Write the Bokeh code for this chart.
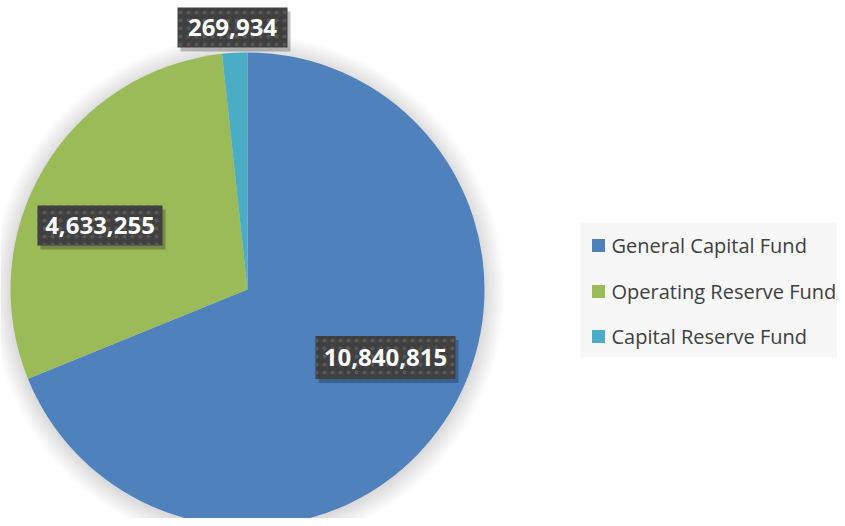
import numpy as np
from bokeh.plotting import figure
from bokeh.models import Range1d, ColumnDataSource
from bokeh.core.properties import value
from bokeh.embed import file_html
from bokeh.resources import INLINE

categories = ["General Capital Fund", "Operating Reserve Fund", "Capital Reserve Fund"]
values = [10840815, 4633255, 269934]
colors = ["#4F81BD", "#9BBB59", "#4BACC6"]
value_labels = ["10,840,815", "4,633,255", "269,934"]

H = 526  # data y = H - screen_y
cx, cy, R = 247, H - 289, 237

vals = np.array(values, dtype=float)
fr = vals / vals.sum()
ends = np.cumsum(fr)
starts = ends - fr
start_angle = np.pi / 2 - starts * 2 * np.pi
end_angle = np.pi / 2 - ends * 2 * np.pi

p = figure(width=837, height=518, x_range=Range1d(0, 837), y_range=Range1d(8, 526),
           output_backend="svg", toolbar_location=None, min_border=0)
p.axis.visible = False
p.grid.visible = False
p.outline_line_color = None
p.background_fill_color = "white"
p.border_fill_color = "white"

# soft shadow
for i in range(12):
    p.circle(x=cx, y=cy - 2, radius=R + 1 + 1.7 * i, fill_color="#000000", fill_alpha=0.011,
             line_color=None)

src = ColumnDataSource(dict(start=start_angle, end=end_angle, color=colors, cat=categories))
p.wedge(x=cx, y=cy, radius=R, start_angle="start", end_angle="end", direction="clock",
        fill_color="color", line_color=None, source=src)

# data labels (annotation box positions, screen coords)
lab_x = [385, 99.5, 232]
lab_sy = [357, 225, 27]
lab_w = [140, 125, 110]
lab_h = [43, 40, 40]
lab_y = [H - s for s in lab_sy]
lsrc = ColumnDataSource(dict(x=lab_x, y=lab_y, w=lab_w, h=lab_h, t=value_labels,
                             xs=[v + 3 for v in lab_x], ys=[v - 4 for v in lab_y]))
p.rect(x="xs", y="ys", width="w", height="h", fill_color="#000000", fill_alpha=0.25,
       line_color=None, source=lsrc)
p.rect(x="x", y="y", width="w", height="h", fill_color="#404040", line_color=None,
       hatch_pattern="dot", hatch_color="#575757", hatch_scale=8, hatch_weight=2,
       source=lsrc)
p.text(x="x", y="y", text="t", text_color="white", text_font=value("Open Sans"),
       text_font_style="bold", text_font_size="24px", text_align="center",
       text_baseline="middle", source=lsrc)

# legend
p.rect(x=712.5, y=H - 289.5, width=265, height=135, fill_color="#f7f7f7", line_color=None)
leg_sy = [245, 291, 336]
leg_y = [H - s for s in leg_sy]
gsrc = ColumnDataSource(dict(y=leg_y, c=colors, t=categories))
p.rect(x=598, y="y", width=13, height=13, fill_color="c", line_color=None, source=gsrc)
p.text(x=611, y="y", text="t", text_color="#404040", text_font=value("Open Sans"),
       text_font_size="20px", text_align="left", text_baseline="middle", source=gsrc)

open("out.html", "w").write(file_html(p, INLINE))
